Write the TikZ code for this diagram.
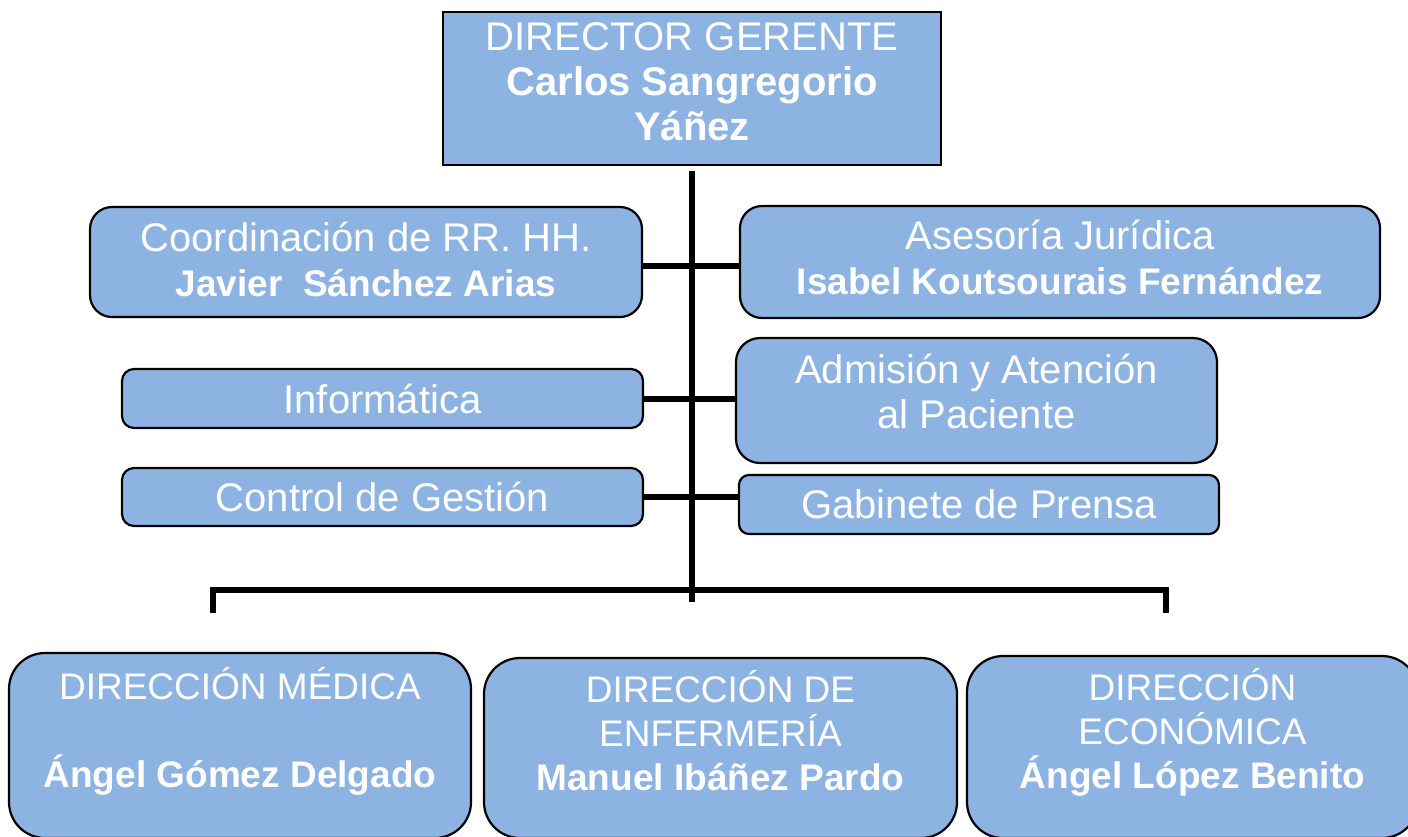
\documentclass[tikz,border=0pt]{standalone}
\usepackage{fontspec}
\setmainfont{Liberation Sans}
\usepackage{tikz}
\usetikzlibrary{positioning}

\definecolor{boxblue}{RGB}{141,179,226}
\newcommand{\nm}[1]{{\fontsize{18.5}{22.5}\selectfont\bfseries #1}}

\begin{document}
\begin{tikzpicture}[x=0.5pt,y=-0.5pt,
                    box node/.style={rectangle,draw=black,line width=1.1pt,fill=boxblue,text=white,
                                     align=center,inner sep=0pt,font=\fontsize{20}{22.5}\selectfont},
                    box text/.style={text=white,align=center,inner sep=0pt,font=\fontsize{20}{22.5}\selectfont},
                    dir node/.style={box node,rounded corners=18pt},
                    dir text/.style={text=white,align=center,inner sep=0pt,font=\fontsize{18.5}{22}\selectfont},
                    link/.style={line width=3pt}]

  \useasboundingbox (0,0) rectangle (1408,836);

  % top
  \node[box node, minimum width=249pt, minimum height=76.5pt] (top) at (692,88.5) {};
  \node[box text] (toptext) at ([yshift=3.25pt]top.center)
       {DIRECTOR GERENTE\\ \textbf{Carlos Sangregorio}\\ \textbf{Yáñez}};

  % staff units
  \node[box node, rounded corners=11pt, minimum width=276pt, minimum height=55pt] (coord) at (366,262) {};
  \node[box text] (coordtext) at ([yshift=1.5pt]coord.center)
       {Coordinación de RR. HH.\\ \nm{Javier~~Sánchez Arias}};
  \node[box node, rounded corners=11pt, minimum width=320pt, minimum height=56pt] (asesoria) at (1060,262) {};
  \node[box text] (asesoriatext) at ([yshift=2.5pt]asesoria.center)
       {Asesoría Jurídica\\ \nm{Isabel Koutsourais Fernández}};
  \node[box node, rounded corners=6pt, minimum width=260.5pt, minimum height=29.5pt] (info) at (382.5,398.5)
       {Informática};
  \node[box node, rounded corners=12pt, minimum width=240.5pt, minimum height=62.5pt] (admision) at (976.5,400.5) {};
  \node[box text] (admisiontext) at ([yshift=4.5pt]admision.center)
       {Admisión y Atención\\ al Paciente};
  \node[box node, rounded corners=6pt, minimum width=260.5pt, minimum height=29pt] (control) at (382.5,497)
       {Control de Gestión};
  \node[box node, rounded corners=5pt, minimum width=240pt, minimum height=29.5pt] (gabinete) at (979,504.5)
       {Gabinete de Prensa};

  % directions
  \node[dir node, minimum width=231pt, minimum height=92.5pt] (medica) at (240,745.5) {};
  \node[dir node, minimum width=236.5pt, minimum height=90pt] (enfermeria) at (720.5,748) {};
  \node[dir node, minimum width=225.5pt, minimum height=91pt] (economica) at (1192.5,747) {};

  \node[dir text, below=7.5pt of medica.north] (medicatext)
       {DIRECCIÓN MÉDICA\\ \mbox{}\\ \textbf{Ángel Gómez Delgado}};
  \node[dir text, below=6.5pt of enfermeria.north] (enfermeriatext)
       {DIRECCIÓN DE\\ ENFERMERÍA\\ \textbf{Manuel Ibáñez Pardo}};
  \node[dir text, below=6.5pt of economica.north] (economicatext)
       {DIRECCIÓN\\ ECONÓMICA\\ \textbf{Ángel López Benito}};

  \coordinate (trunk) at (692,602);
  \coordinate (busL) at (213,590);
  \coordinate (busR) at (1166,590);
  \coordinate (legL) at (213,613);
  \coordinate (legR) at (1166,613);

  \draw[link, shorten <=2.5pt] (top.south) -- (trunk);
  \draw[link] (coord.east |- 0,266) -- (asesoria.west |- 0,266);
  \draw[link] (info.east) -- (info.east -| admision.west);
  \draw[link] (control.east) -- (control.east -| gabinete.west);
  \draw[link] (legL) -- (busL) -- (busR) -- (legR);
\end{tikzpicture}
\end{document}
